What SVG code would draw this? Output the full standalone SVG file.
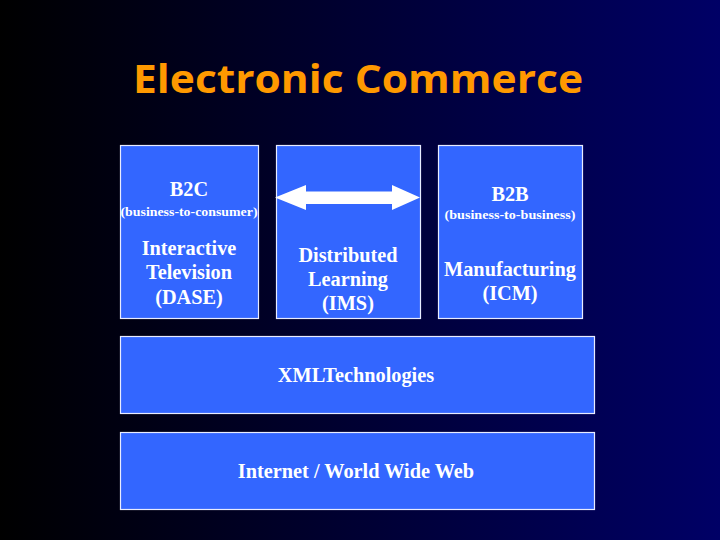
<svg xmlns="http://www.w3.org/2000/svg" width="720" height="540" viewBox="0 0 720 540">
<defs>
<linearGradient id="bg" x1="0" y1="0" x2="1" y2="0">
<stop offset="0" stop-color="#000000"/>
<stop offset="1" stop-color="#000066"/>
</linearGradient>
<style>
.box{fill:#3366FF;stroke:#E8ECFF;stroke-width:1.2}
.t{font-family:"Liberation Serif","Times New Roman",serif;font-weight:bold;fill:#FFFFFF;text-anchor:middle}
.big{font-size:20.3px}
.small{font-size:13px}
.title{font-family:"Open Sans","DejaVu Sans",sans-serif;font-weight:bold;font-size:40px;fill:#FF9900}
</style>
</defs>
<rect width="720" height="540" fill="url(#bg)"/>
<text class="title" x="133" y="93" textLength="450" lengthAdjust="spacingAndGlyphs">Electronic Commerce</text>
<g id="b2c">
<rect class="box" x="120.5" y="145.5" width="138" height="173"/>
<text class="t big" x="189" y="196">B2C</text>
<text class="t small" x="189" y="216" textLength="137" lengthAdjust="spacingAndGlyphs">(business-to-consumer)</text>
<text class="t big" x="189" y="255">Interactive</text>
<text class="t big" x="189" y="279">Television</text>
<text class="t big" x="189" y="304">(DASE)</text>
</g>
<g id="distributed">
<rect class="box" x="276.5" y="145.5" width="144" height="173"/>
<text class="t big" x="348" y="262">Distributed</text>
<text class="t big" x="348" y="286">Learning</text>
<text class="t big" x="348" y="310">(IMS)</text>
</g>
<g id="b2b">
<rect class="box" x="438.5" y="145.5" width="144" height="173"/>
<text class="t big" x="510" y="201">B2B</text>
<text class="t small" x="510" y="219" textLength="131" lengthAdjust="spacingAndGlyphs">(business-to-business)</text>
<text class="t big" x="510" y="276">Manufacturing</text>
<text class="t big" x="510" y="300">(ICM)</text>
</g>
<g id="xml">
<rect class="box" x="120.5" y="336.5" width="474" height="77"/>
<text class="t big" x="356" y="382">XMLTechnologies</text>
</g>
<g id="internet">
<rect class="box" x="120.5" y="432.5" width="474" height="77"/>
<text class="t big" x="356" y="478">Internet / World Wide Web</text>
</g>
<g id="connectors">
<polygon points="275,197.5 306,185 306,191.5 392,191.5 392,185 420,197.5 392,210 392,204 306,204 306,210" fill="#FFFFFF"/>
</g>
</svg>
